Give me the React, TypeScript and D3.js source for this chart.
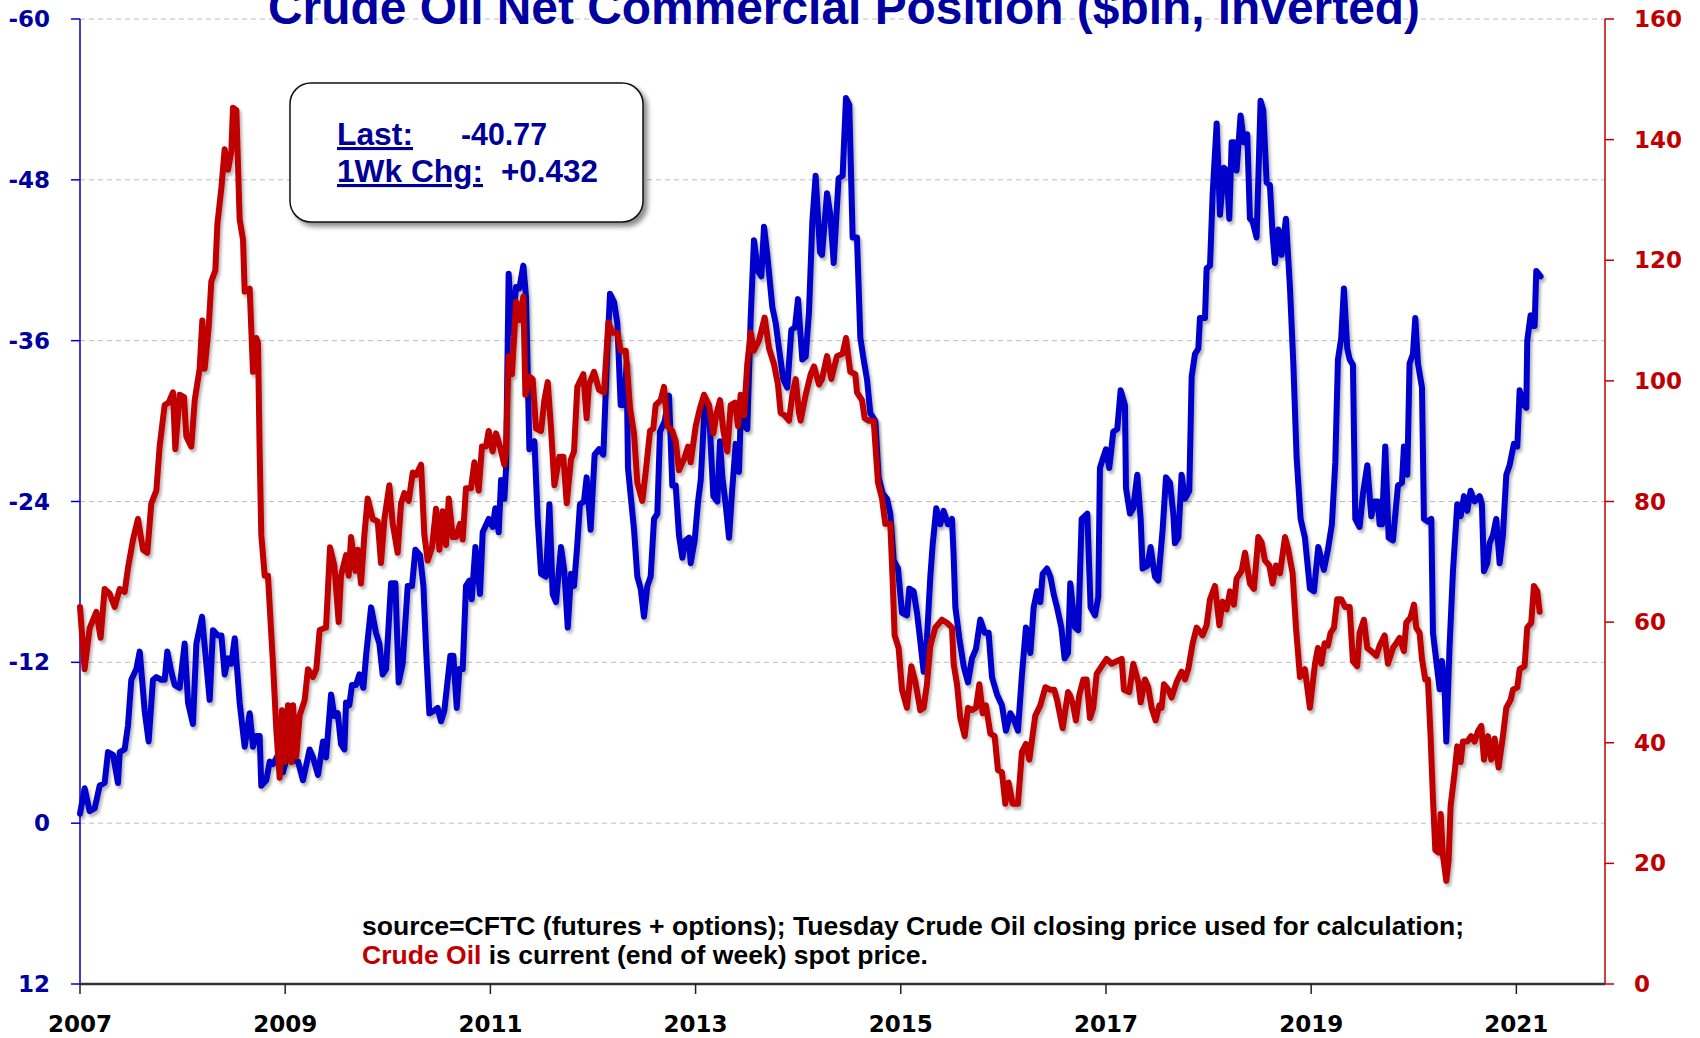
import React from "react";
import * as d3 from "d3";

// ---- data (x = years since start of 2007) ----
const startYear = 2007;
const xTickYears = [2007, 2009, 2011, 2013, 2015, 2017, 2019, 2021];
const leftTicks = [-60, -48, -36, -24, -12, 0, 12];
const rightTicks = [0, 20, 40, 60, 80, 100, 120, 140, 160];

const netPosition: [number, number][] = [
[0.000,-0.7],[0.045,-2.6],[0.094,-0.9],[0.143,-1.1],[0.192,-2.8],[0.240,-3.0],[0.273,-5.3],[0.322,-5.1],[0.370,-3.0],[0.387,-5.3],[0.435,-5.5],[0.468,-7.3],[0.500,-10.7],[0.549,-11.5],[0.582,-12.8],[0.630,-8.4],[0.669,-6.1],[0.711,-10.7],[0.744,-10.9],[0.793,-10.7],[0.825,-10.7],[0.851,-12.8],[0.890,-11.3],[0.923,-10.3],[0.971,-10.1],[1.020,-13.4],[1.053,-9.0],[1.101,-7.4],[1.134,-13.4],[1.189,-15.4],[1.231,-11.9],[1.264,-9.2],[1.296,-14.4],[1.345,-14.0],[1.378,-14.0],[1.410,-11.1],[1.443,-12.3],[1.475,-11.9],[1.508,-13.8],[1.556,-9.0],[1.605,-5.7],[1.654,-8.2],[1.686,-5.7],[1.719,-6.5],[1.751,-6.5],[1.767,-2.8],[1.816,-3.2],[1.849,-4.6],[1.881,-4.4],[1.930,-5.1],[1.979,-3.8],[2.027,-5.3],[2.076,-4.7],[2.125,-4.6],[2.173,-3.2],[2.238,-5.5],[2.271,-4.9],[2.320,-3.6],[2.368,-6.1],
[2.398,-4.9],[2.447,-9.6],[2.479,-8.0],[2.512,-8.2],[2.544,-5.9],[2.577,-5.5],[2.593,-9.0],[2.625,-8.8],[2.651,-10.3],[2.690,-10.3],[2.723,-11.1],[2.762,-10.1],[2.788,-12.5],[2.837,-16.1],[2.885,-14.2],[2.918,-13.4],[2.950,-11.1],[2.983,-11.5],[3.015,-15.7],[3.032,-17.9],[3.074,-17.9],[3.106,-10.5],[3.145,-11.9],[3.194,-17.7],[3.236,-17.7],[3.269,-20.4],[3.314,-20.0],[3.347,-17.7],[3.373,-13.0],[3.405,-8.2],[3.454,-8.4],[3.486,-8.6],[3.519,-7.6],[3.551,-8.4],[3.584,-10.7],[3.610,-12.5],[3.639,-12.5],[3.672,-8.6],[3.698,-11.5],[3.730,-11.5],[3.762,-17.7],[3.795,-18.1],[3.818,-16.7],[3.854,-20.6],[3.899,-17.1],[3.925,-21.7],[3.984,-22.7],[4.022,-22.1],[4.048,-23.5],[4.081,-21.7],[4.104,-25.6],[4.136,-24.2],[4.152,-26.4],[4.178,-41.0],[4.211,-36.6],[4.250,-40.0],[4.282,-39.9],[4.321,-41.6],[4.347,-39.3],[4.380,-27.9],[4.429,-28.5],[4.461,-22.7],[4.494,-18.6],[4.542,-18.4],[4.575,-23.8],[4.607,-17.1],[4.640,-16.5],[4.688,-20.6],[4.721,-18.8],[4.754,-14.6],[4.786,-18.6],
[4.815,-17.7],[4.847,-20.8],[4.873,-23.8],[4.912,-24.0],[4.938,-25.8],[4.977,-21.9],[5.016,-27.5],[5.059,-27.9],[5.101,-27.5],[5.140,-35.4],[5.166,-39.5],[5.205,-38.9],[5.237,-37.3],[5.270,-31.2],[5.302,-31.2],[5.328,-34.3],[5.341,-26.5],[5.400,-21.9],[5.432,-18.4],[5.465,-17.5],[5.497,-15.4],[5.530,-17.7],[5.562,-18.4],[5.595,-22.7],[5.627,-23.1],[5.653,-29.2],[5.676,-29.6],[5.699,-30.0],[5.741,-31.9],[5.773,-25.2],[5.806,-25.2],[5.838,-21.5],[5.871,-19.8],[5.903,-21.1],[5.936,-21.3],[5.952,-19.4],[5.991,-21.1],[6.024,-24.0],[6.050,-25.6],[6.089,-31.2],[6.131,-30.8],[6.173,-24.4],[6.212,-24.0],[6.238,-28.5],[6.261,-25.8],[6.293,-23.8],[6.326,-21.3],[6.358,-25.0],[6.391,-28.3],[6.423,-26.2],[6.446,-31.9],[6.478,-29.6],[6.504,-29.4],[6.537,-37.7],[6.569,-43.5],[6.608,-41.2],[6.641,-40.8],[6.667,-44.5],[6.699,-42.4],[6.748,-38.5],[6.781,-37.3],[6.813,-35.4],[6.855,-33.1],[6.894,-32.5],[6.933,-36.8],[6.969,-37.0],[6.998,-39.1],[7.040,-34.6],[7.073,-34.8],[7.105,-38.1],[7.138,-44.9],[7.170,-48.3],[7.213,-42.6],
[7.232,-42.4],[7.281,-47.0],[7.313,-45.4],[7.346,-41.8],[7.394,-48.1],[7.433,-48.3],[7.466,-54.1],[7.498,-53.6],[7.531,-43.7],[7.573,-43.7],[7.606,-36.2],[7.638,-34.6],[7.671,-33.1],[7.703,-30.6],[7.752,-30.0],[7.784,-25.8],[7.823,-24.6],[7.866,-24.2],[7.898,-23.1],[7.931,-19.6],[7.973,-19.0],[8.012,-15.7],[8.060,-15.5],[8.083,-17.5],[8.125,-17.3],[8.158,-15.7],[8.190,-13.6],[8.223,-11.3],[8.255,-13.8],[8.288,-18.4],[8.311,-20.8],[8.346,-23.5],[8.385,-22.3],[8.418,-23.3],[8.460,-22.3],[8.499,-22.7],[8.515,-20.0],[8.532,-16.1],[8.571,-13.8],[8.613,-11.7],[8.655,-10.5],[8.694,-12.3],[8.733,-13.0],[8.775,-15.2],[8.818,-14.2],[8.856,-14.2],[8.889,-10.9],[8.938,-9.6],[8.986,-8.8],[9.025,-6.9],[9.068,-8.2],[9.100,-7.8],[9.142,-6.9],[9.181,-11.1],[9.220,-14.6],[9.263,-12.7],[9.295,-16.1],[9.328,-17.3],[9.360,-16.5],[9.383,-18.6],[9.425,-19.0],[9.458,-18.4],[9.490,-17.1],[9.523,-16.1],[9.565,-14.6],[9.597,-12.3],[9.630,-12.7],[9.652,-17.9],
[9.698,-14.6],[9.730,-14.4],[9.763,-22.7],[9.818,-23.1],[9.850,-16.1],[9.893,-15.5],[9.925,-16.9],[9.941,-26.5],[9.974,-27.3],[10.000,-27.9],[10.032,-26.5],[10.071,-29.2],[10.110,-29.4],[10.143,-32.3],[10.185,-31.2],[10.195,-25.0],[10.234,-23.1],[10.266,-23.5],[10.305,-26.0],[10.338,-22.7],[10.357,-19.0],[10.403,-19.2],[10.435,-20.6],[10.477,-18.4],[10.510,-18.1],[10.552,-21.9],[10.585,-25.8],[10.624,-25.4],[10.656,-23.1],[10.672,-20.9],[10.705,-21.3],[10.737,-26.0],[10.770,-24.2],[10.812,-24.8],[10.835,-33.3],[10.867,-35.0],[10.900,-35.4],[10.916,-37.7],[10.965,-37.7],[10.981,-41.4],[11.014,-41.6],[11.040,-47.0],[11.079,-52.2],[11.111,-45.4],[11.150,-48.9],[11.176,-48.7],[11.202,-45.1],[11.225,-50.8],[11.247,-50.8],[11.273,-48.7],[11.312,-52.8],[11.345,-50.8],[11.377,-51.4],[11.403,-45.1],[11.429,-44.9],[11.468,-43.7],[11.507,-53.9],[11.533,-53.2],[11.566,-47.8],[11.598,-47.6],[11.624,-43.9],[11.647,-41.8],[11.680,-44.3],[11.712,-42.4],[11.754,-45.1],[11.793,-40.0],[11.826,-34.3],[11.858,-27.3],[11.897,-22.7],[11.939,-21.3],[11.988,-17.5],[12.027,-17.3],[12.069,-20.6],
[12.124,-18.9],[12.163,-20.4],[12.202,-22.3],[12.235,-26.9],[12.261,-34.6],[12.293,-36.2],[12.319,-39.9],[12.352,-35.4],[12.375,-34.6],[12.407,-34.2],[12.430,-22.7],[12.472,-22.1],[12.505,-24.6],[12.547,-26.7],[12.586,-22.9],[12.618,-24.0],[12.651,-24.0],[12.667,-22.3],[12.690,-22.3],[12.722,-28.1],[12.755,-21.3],[12.797,-21.1],[12.846,-25.2],[12.885,-25.4],[12.904,-28.1],[12.937,-26.0],[12.959,-34.3],[12.992,-35.0],[13.015,-37.7],[13.041,-34.3],[13.080,-32.5],[13.099,-22.7],[13.138,-22.5],[13.171,-22.7],[13.187,-14.2],[13.229,-11.5],[13.252,-10.0],[13.275,-12.1],[13.301,-10.0],[13.317,-6.1],[13.349,-13.2],[13.382,-18.8],[13.424,-23.8],[13.457,-22.9],[13.489,-24.4],[13.522,-23.3],[13.554,-24.8],[13.593,-24.0],[13.642,-24.4],[13.664,-23.8],[13.684,-18.8],[13.716,-19.4],[13.739,-20.9],[13.772,-21.5],[13.804,-22.7],[13.837,-19.4],[13.869,-21.5],[13.902,-26.0],[13.934,-26.7],[13.976,-28.3],[14.009,-28.1],[14.032,-32.3],[14.074,-31.2],[14.097,-31.0],[14.106,-36.0],[14.139,-37.9],[14.162,-37.1],[14.178,-37.1],[14.194,-41.2],[14.236,-40.8]
];

const crudePrice: [number, number][] = [
[0.000,62.5],[0.045,52.2],[0.094,59.0],[0.159,61.7],[0.201,57.4],[0.240,65.5],[0.289,64.7],[0.338,62.5],[0.387,65.5],[0.435,65.0],[0.468,69.0],[0.517,73.7],[0.565,77.1],[0.614,72.0],[0.656,71.5],[0.695,79.7],[0.744,81.8],[0.776,89.1],[0.825,96.0],[0.864,96.4],[0.906,98.1],[0.929,88.7],[0.971,97.7],[1.014,97.3],[1.036,90.8],[1.085,89.1],[1.118,96.8],[1.166,102.0],[1.192,110.0],[1.215,102.0],[1.254,108.8],[1.280,116.5],[1.319,118.3],[1.339,126.0],[1.378,132.0],[1.410,138.4],[1.443,135.0],[1.475,138.0],[1.491,145.3],[1.524,144.9],[1.556,126.8],[1.589,123.4],[1.605,114.8],[1.654,115.3],[1.686,101.5],[1.719,107.1],[1.735,106.3],[1.751,88.3],[1.767,74.5],[1.800,67.7],[1.832,67.7],[1.881,53.1],[1.914,42.0],[1.946,34.2],[1.969,45.4],[1.995,36.8],[2.027,46.2],[2.060,36.8],[2.076,46.2],[2.108,37.7],[2.141,44.5],[2.190,47.1],[2.222,52.2],[2.271,50.9],[2.303,52.2],[2.336,58.7],
[2.398,59.1],[2.437,72.4],[2.479,69.4],[2.521,60.0],[2.544,67.7],[2.593,71.1],[2.619,67.7],[2.642,74.1],[2.684,68.5],[2.707,72.0],[2.739,66.4],[2.772,74.5],[2.804,80.5],[2.853,77.1],[2.902,76.7],[2.934,69.8],[2.967,77.1],[3.015,82.7],[3.048,76.3],[3.096,71.5],[3.129,79.7],[3.161,81.4],[3.204,80.1],[3.243,84.8],[3.275,84.4],[3.324,86.1],[3.356,74.5],[3.389,70.2],[3.431,72.4],[3.470,78.8],[3.503,72.0],[3.535,78.4],[3.568,72.8],[3.594,80.5],[3.633,74.1],[3.665,74.1],[3.704,76.3],[3.730,73.7],[3.762,82.2],[3.811,82.2],[3.844,86.5],[3.886,81.8],[3.918,89.1],[3.957,89.1],[3.983,91.7],[4.022,88.3],[4.055,91.3],[4.094,89.1],[4.136,86.1],[4.152,88.3],[4.178,104.1],[4.211,101.1],[4.250,113.1],[4.282,110.1],[4.321,114.0],[4.341,97.7],[4.380,100.7],[4.412,100.3],[4.445,92.1],[4.494,91.7],[4.526,96.8],[4.559,99.8],[4.591,92.1],[4.624,82.7],[4.672,87.4],[4.711,87.4],[4.744,79.7],[4.786,87.0],
[4.815,88.3],[4.847,99.0],[4.906,101.1],[4.938,93.8],[4.961,99.4],[5.010,101.5],[5.059,98.5],[5.107,98.1],[5.150,109.7],[5.189,108.0],[5.237,108.0],[5.270,105.0],[5.319,105.0],[5.361,95.5],[5.400,91.3],[5.432,83.1],[5.481,80.1],[5.513,84.8],[5.556,91.7],[5.588,92.1],[5.611,96.0],[5.660,96.8],[5.692,99.0],[5.725,92.5],[5.773,91.7],[5.806,90.0],[5.838,85.2],[5.887,87.0],[5.926,89.1],[5.952,86.5],[6.001,92.5],[6.043,95.5],[6.082,97.7],[6.131,96.0],[6.173,91.3],[6.206,94.7],[6.238,96.8],[6.271,91.7],[6.309,88.3],[6.342,96.0],[6.384,96.4],[6.413,92.5],[6.439,97.7],[6.472,94.3],[6.504,102.8],[6.537,108.0],[6.569,105.0],[6.618,106.7],[6.673,110.5],[6.716,105.4],[6.764,102.8],[6.803,99.4],[6.829,94.7],[6.868,94.3],[6.911,93.4],[6.943,97.7],[6.976,100.3],[7.008,94.7],[7.024,93.4],[7.073,97.7],[7.122,101.1],[7.154,102.4],[7.203,99.4],
[7.232,100.3],[7.281,104.1],[7.323,100.3],[7.378,104.1],[7.433,104.5],[7.466,107.1],[7.508,101.5],[7.557,101.1],[7.573,98.1],[7.622,96.8],[7.648,93.8],[7.687,93.4],[7.736,93.4],[7.778,83.1],[7.817,80.5],[7.849,76.3],[7.898,76.3],[7.921,66.8],[7.940,57.8],[7.979,55.7],[8.012,48.8],[8.060,45.8],[8.103,52.7],[8.142,50.1],[8.190,45.4],[8.223,45.8],[8.255,49.7],[8.288,56.1],[8.337,59.1],[8.402,60.4],[8.450,59.9],[8.499,59.1],[8.515,53.1],[8.548,49.7],[8.580,44.1],[8.623,41.1],[8.655,45.8],[8.694,45.4],[8.733,45.8],[8.766,49.7],[8.798,44.9],[8.830,46.2],[8.873,41.5],[8.915,41.1],[8.947,35.5],[8.986,35.1],[9.019,29.9],[9.051,33.4],[9.090,29.9],[9.142,29.9],[9.181,38.5],[9.220,39.8],[9.253,37.2],[9.311,44.5],[9.360,46.2],[9.409,49.2],[9.458,48.8],[9.496,48.8],[9.523,47.1],[9.578,42.4],[9.630,48.4],
[9.649,47.9],[9.681,46.2],[9.707,43.7],[9.740,47.9],[9.779,50.5],[9.811,50.5],[9.844,44.1],[9.876,45.8],[9.909,51.4],[9.958,52.7],[10.006,53.9],[10.055,53.1],[10.104,53.5],[10.153,53.9],[10.175,48.8],[10.227,48.4],[10.266,53.1],[10.315,50.1],[10.338,46.7],[10.380,50.5],[10.412,49.2],[10.445,45.8],[10.484,43.7],[10.520,46.2],[10.542,45.8],[10.565,49.7],[10.607,48.8],[10.640,47.5],[10.689,50.1],[10.737,51.8],[10.770,50.5],[10.802,52.2],[10.845,56.5],[10.884,59.1],[10.942,57.8],[10.981,59.5],[11.014,63.8],[11.062,66.0],[11.105,59.5],[11.137,63.4],[11.176,62.1],[11.209,65.1],[11.247,62.9],[11.273,67.2],[11.322,68.5],[11.355,71.5],[11.403,66.4],[11.442,65.5],[11.485,74.1],[11.517,73.2],[11.550,70.2],[11.592,69.4],[11.624,66.4],[11.657,69.4],[11.696,68.1],[11.745,74.1],[11.777,72.0],[11.819,68.1],[11.852,59.1],[11.891,50.9],[11.939,52.2],[11.988,45.8],[12.037,53.1],
[12.066,55.7],[12.098,53.1],[12.131,56.5],[12.163,56.1],[12.189,58.2],[12.222,59.1],[12.254,63.8],[12.293,63.8],[12.332,62.5],[12.375,62.5],[12.407,53.5],[12.449,52.7],[12.472,58.2],[12.514,60.4],[12.547,55.7],[12.586,55.2],[12.635,54.4],[12.667,56.1],[12.716,57.8],[12.748,53.1],[12.797,55.7],[12.829,56.5],[12.862,57.4],[12.904,55.2],[12.927,59.9],[12.969,60.8],[13.002,62.9],[13.024,59.1],[13.057,58.2],[13.080,53.9],[13.112,50.5],[13.138,50.5],[13.164,41.1],[13.187,30.8],[13.210,22.2],[13.242,21.8],[13.262,28.2],[13.284,21.4],[13.317,17.1],[13.340,20.5],[13.359,29.5],[13.398,35.1],[13.424,39.4],[13.457,36.8],[13.479,40.2],[13.522,40.2],[13.560,41.1],[13.593,40.2],[13.625,41.9],[13.658,42.8],[13.684,37.2],[13.723,41.1],[13.755,37.2],[13.788,40.7],[13.827,35.9],[13.869,41.1],[13.902,45.8],[13.944,47.1],[13.967,48.8],[14.009,49.2],[14.032,52.2],[14.080,52.7],[14.106,59.1],[14.145,59.9],[14.171,66.0],[14.204,65.1],[14.227,61.7]
];

const titleText = "Crude Oil Net Commercial Position ($bln, inverted)";
const lastLabel = "Last:";
const lastValue = "-40.77";
const chgLabel = "1Wk Chg:";
const chgValue = "+0.432";
const sourceLine1 = "source=CFTC (futures + options); Tuesday Crude Oil closing price used for calculation;";
const sourceLine2Red = "Crude Oil";
const sourceLine2Rest = " is current (end of week) spot price.";

const W = 1700, H = 1038;
const plotL = 80, plotR = 1605, plotT = 19, plotB = 984;
const BLUE = "#0000CC", RED = "#C00000", NAVY = "#0000A0";

export default function App() {
  const x = d3.scaleLinear().domain([startYear, 2021.864]).range([plotL, plotR]);
  const yL = d3.scaleLinear().domain([-60, 12]).range([plotT, plotB]);
  const yR = d3.scaleLinear().domain([0, 160]).range([plotB, plotT]);

  const blueLine = d3.line<[number, number]>()
    .x(d => x(startYear + d[0])).y(d => yL(d[1]));
  const redLine = d3.line<[number, number]>()
    .x(d => x(startYear + d[0])).y(d => yR(d[1]));

  const tickFont = "'DejaVu Sans', Verdana, sans-serif";
  const arial = "'Liberation Sans', Arial, sans-serif";

  return (
    <svg width={W} height={H} style={{ position: "absolute", left: 0, top: 0, background: "#fff" }}>
      <defs>
        <filter id="lineShadow" x="-5%" y="-5%" width="110%" height="110%">
          <feDropShadow dx="2" dy="3" stdDeviation="1.5" floodColor="#000" floodOpacity="0.3" />
        </filter>
        <filter id="boxShadow" x="-10%" y="-10%" width="125%" height="130%">
          <feDropShadow dx="4" dy="4" stdDeviation="2.5" floodColor="#000" floodOpacity="0.45" />
        </filter>
      </defs>
      <rect x={0} y={0} width={W} height={H} fill="#fff" />

      {/* gridlines */}
      {leftTicks.filter(t => t < 12).map(t => (
        <line key={"g" + t} x1={plotL} x2={plotR} y1={yL(t)} y2={yL(t)}
          stroke="#bdbdbd" strokeWidth={1} strokeDasharray="5,4" />
      ))}

      {/* title (cut at the top edge as in the original) */}
      <text x={844} y={24} textAnchor="middle" fontFamily={arial} fontWeight="bold"
        fontSize={48} fill={NAVY} textLength={1152} lengthAdjust="spacingAndGlyphs">{titleText}</text>

      {/* left axis */}
      <line x1={plotL} x2={plotL} y1={plotT} y2={plotB} stroke={BLUE} strokeWidth={1.5} />
      {leftTicks.map(t => (
        <g key={"l" + t}>
          <line x1={plotL - 9} x2={plotL} y1={yL(t)} y2={yL(t)} stroke={BLUE} strokeWidth={1.5} />
          <text x={50} y={yL(t) + 8} textAnchor="end" fontFamily={tickFont} fontWeight="bold"
            fontSize={23} fill={NAVY}>{t}</text>
        </g>
      ))}

      {/* right axis */}
      <line x1={plotR} x2={plotR} y1={plotT} y2={plotB} stroke={RED} strokeWidth={1.5} />
      {rightTicks.map(t => (
        <g key={"r" + t}>
          <line x1={plotR} x2={plotR + 9} y1={yR(t)} y2={yR(t)} stroke={RED} strokeWidth={1.5} />
          <text x={1634} y={yR(t) + 8} textAnchor="start" fontFamily={tickFont} fontWeight="bold"
            fontSize={23} fill={RED}>{t}</text>
        </g>
      ))}

      {/* x axis */}
      <line x1={plotL} x2={plotR} y1={plotB} y2={plotB} stroke="#333" strokeWidth={2.5} />
      {xTickYears.map(yr => (
        <g key={"x" + yr}>
          <line x1={x(yr)} x2={x(yr)} y1={plotB} y2={plotB + 10} stroke="#222" strokeWidth={1.5} />
          <text x={x(yr)} y={1032} textAnchor="middle" fontFamily={tickFont} fontWeight="bold"
            fontSize={23} fill="#000">{yr}</text>
        </g>
      ))}

      {/* series */}
      <path d={blueLine(netPosition) || ""} fill="none" stroke={BLUE} strokeWidth={6}
        strokeLinejoin="round" strokeLinecap="round" filter="url(#lineShadow)" />
      <path d={redLine(crudePrice) || ""} fill="none" stroke={RED} strokeWidth={6}
        strokeLinejoin="round" strokeLinecap="round" filter="url(#lineShadow)" />

      {/* info box */}
      <rect x={290} y={83} width={353} height={139} rx={21} ry={21} fill="#fff" stroke="#111"
        strokeWidth={1.5} filter="url(#boxShadow)" />
      <g fontFamily={arial} fontWeight="bold" fontSize={31} fill="#000099">
        <text x={337} y={145} textDecoration="underline" textLength={76} lengthAdjust="spacingAndGlyphs">{lastLabel}</text>
        <text x={461} y={145} textLength={86} lengthAdjust="spacingAndGlyphs">{lastValue}</text>
        <text x={337} y={182} textDecoration="underline" textLength={146} lengthAdjust="spacingAndGlyphs">{chgLabel}</text>
        <text x={501} y={182} textLength={97} lengthAdjust="spacingAndGlyphs">{chgValue}</text>
      </g>

      {/* source note */}
      <g fontFamily={arial} fontWeight="bold" fontSize={25} fill="#000">
        <text x={362} y={935} textLength={1102} lengthAdjust="spacingAndGlyphs">{sourceLine1}</text>
        <text x={362} y={964} textLength={566} lengthAdjust="spacingAndGlyphs">
          <tspan fill={RED}>{sourceLine2Red}</tspan>
          <tspan>{sourceLine2Rest}</tspan>
        </text>
      </g>
    </svg>
  );
}
